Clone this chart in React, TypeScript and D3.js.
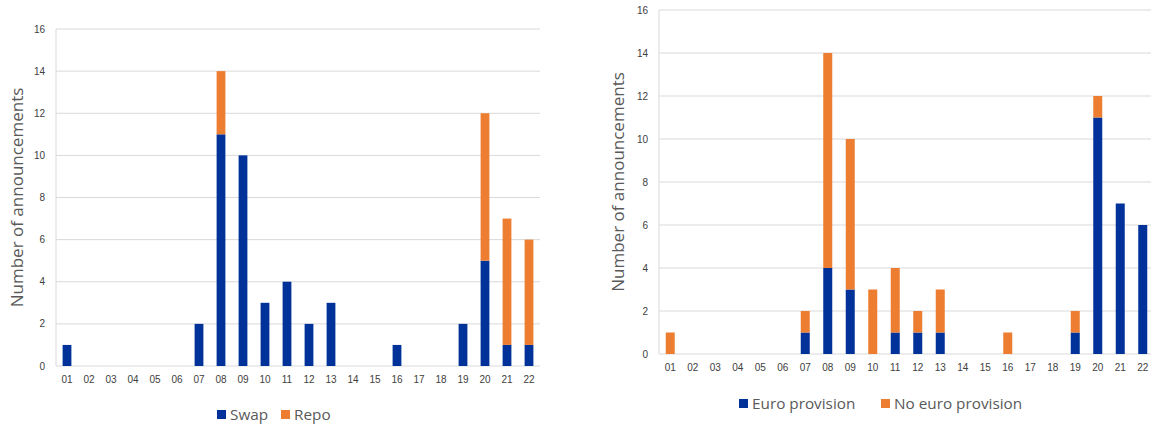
import React from "react";
import * as d3 from "d3";

const categories = ["01","02","03","04","05","06","07","08","09","10","11","12","13","14","15","16","17","18","19","20","21","22"];
const swap =   [1,0,0,0,0,0,2,11,10,3,4,2,3,0,0,1,0,0,2,5,1,1];
const repo =   [0,0,0,0,0,0,0,3,0,0,0,0,0,0,0,0,0,0,0,7,6,5];
const euroProvision =   [0,0,0,0,0,0,1,4,3,0,1,1,1,0,0,0,0,0,1,11,7,6];
const noEuroProvision = [1,0,0,0,0,0,1,10,7,3,3,1,2,0,0,1,0,0,1,1,0,0];
const yTicks = [0,2,4,6,8,10,12,14,16];

const BLUE = "#003299";
const ORANGE = "#ED7D31";

type Panel = {
  left: number; right: number; top: number; bottom: number;
  s1: number[]; s2: number[]; n1: string; n2: string;
  titleX: number; xLabelY: number; legendY: number;
  leg1X: number; leg2X: number;
};

function Chart({ p }: { p: Panel }) {
  const x = d3.scaleBand<string>().domain(categories).range([p.left, p.right]).paddingInner(0.6).paddingOuter(0.3);
  const y = d3.scaleLinear().domain([0, 16]).range([p.bottom, p.top]);
  const bw = x.bandwidth();
  return (
    <g>
      {yTicks.map(t => (
        <g key={t}>
          <line x1={p.left} x2={p.right} y1={y(t)} y2={y(t)} stroke="#d9d9d9" strokeWidth={1} />
          <text x={p.left - 11} y={y(t)} dy="0.35em" textAnchor="end" fontSize={10} fill="#404040" fontFamily="Liberation Sans, Arial, sans-serif">{t}</text>
        </g>
      ))}
      <line x1={p.left} x2={p.left} y1={p.top} y2={p.bottom} stroke="#d9d9d9" />
      {categories.map((c, i) => {
        const bx = x(c)!;
        const a = p.s1[i], b = p.s2[i];
        return (
          <g key={c}>
            {a > 0 && <rect x={bx} width={bw} y={y(a)} height={y(0) - y(a)} fill={BLUE} />}
            {b > 0 && <rect x={bx} width={bw} y={y(a + b)} height={y(a) - y(a + b)} fill={ORANGE} />}
            <text x={bx + bw / 2} y={p.xLabelY} textAnchor="middle" fontSize={10} fill="#404040" fontFamily="Liberation Sans, Arial, sans-serif">{c}</text>
          </g>
        );
      })}
      <text transform={`translate(${p.titleX},${(p.top + p.bottom) / 2}) rotate(-90)`} textAnchor="middle" fontSize={17} fill="#595959" fontFamily="Open Sans, sans-serif">Number of announcements</text>
      <rect x={p.leg1X} y={p.legendY - 10} width={9} height={9} fill={BLUE} />
      <text x={p.leg1X + 13} y={p.legendY} fontSize={15.3} fill="#595959" fontFamily="Open Sans, sans-serif">{p.n1}</text>
      <rect x={p.leg2X} y={p.legendY - 10} width={9} height={9} fill={ORANGE} />
      <text x={p.leg2X + 13} y={p.legendY} fontSize={15.3} fill="#595959" fontFamily="Open Sans, sans-serif">{p.n2}</text>
    </g>
  );
}

export default function App() {
  const leftPanel: Panel = {
    left: 56, right: 540, top: 29, bottom: 366,
    s1: swap, s2: repo, n1: "Swap", n2: "Repo",
    titleX: 23, xLabelY: 383, legendY: 420, leg1X: 217, leg2X: 281,
  };
  const rightPanel: Panel = {
    left: 659, right: 1154, top: 10, bottom: 354,
    s1: euroProvision, s2: noEuroProvision, n1: "Euro provision", n2: "No euro provision",
    titleX: 624, xLabelY: 371, legendY: 409, leg1X: 739, leg2X: 881,
  };
  return (
    <svg width={1151} height={425} style={{ position: "absolute", left: 0, top: 0, background: "#fff" }}>
      <rect width={1151} height={425} fill="#fff" />
      <Chart p={leftPanel} />
      <Chart p={rightPanel} />
    </svg>
  );
}
